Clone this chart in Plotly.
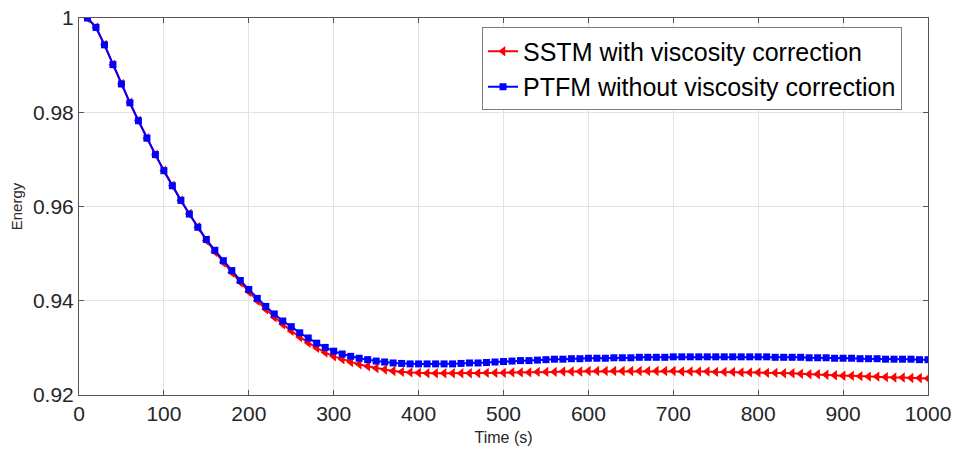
import plotly.graph_objects as go

time_s = [10, 20, 30, 40, 50, 60, 70, 80, 90, 100,
          110, 120, 130, 140, 150, 160, 170, 180, 190, 200,
          210, 220, 230, 240, 250, 260, 270, 280, 290, 300,
          310, 320, 330, 340, 350, 360, 370, 380, 390, 400,
          410, 420, 430, 440, 450, 460, 470, 480, 490, 500,
          510, 520, 530, 540, 550, 560, 570, 580, 590, 600,
          610, 620, 630, 640, 650, 660, 670, 680, 690, 700,
          710, 720, 730, 740, 750, 760, 770, 780, 790, 800,
          810, 820, 830, 840, 850, 860, 870, 880, 890, 900,
          910, 920, 930, 940, 950, 960, 970, 980, 990, 1000]

sstm_energy = [1.0000, 0.9980, 0.9943, 0.9901, 0.9860, 0.9820, 0.9782, 0.9745, 0.9710, 0.9676,
               0.9644, 0.9613, 0.9584, 0.9556, 0.9528, 0.9504, 0.9481, 0.9460, 0.9439, 0.9419,
               0.9400, 0.9382, 0.9365, 0.9350, 0.9336, 0.9323, 0.9311, 0.9300, 0.9290, 0.9282,
               0.9276, 0.9270, 0.9265, 0.9261, 0.9257, 0.9254, 0.9251, 0.9249, 0.9248, 0.9247,
               0.9246, 0.9246, 0.9246, 0.9246, 0.9246, 0.9246, 0.9246, 0.9247, 0.9247, 0.9247,
               0.9248, 0.9248, 0.9248, 0.9249, 0.9249, 0.9249, 0.9250, 0.9250, 0.9250, 0.9251,
               0.9251, 0.9251, 0.9251, 0.9251, 0.9251, 0.9251, 0.9251, 0.9251, 0.9251, 0.9251,
               0.9250, 0.9250, 0.9250, 0.9250, 0.9249, 0.9249, 0.9249, 0.9248, 0.9248, 0.9248,
               0.9247, 0.9247, 0.9246, 0.9246, 0.9245, 0.9244, 0.9244, 0.9243, 0.9242, 0.9241,
               0.9241, 0.9240, 0.9239, 0.9239, 0.9238, 0.9237, 0.9237, 0.9236, 0.9236, 0.9235]

ptfm_energy = [1.0000, 0.9980, 0.9943, 0.9901, 0.9860, 0.9820, 0.9782, 0.9745, 0.9710, 0.9676,
               0.9644, 0.9613, 0.9584, 0.9556, 0.9530, 0.9507, 0.9485, 0.9464, 0.9443, 0.9424,
               0.9405, 0.9388, 0.9372, 0.9357, 0.9345, 0.9332, 0.9321, 0.9310, 0.9301, 0.9293,
               0.9287, 0.9282, 0.9278, 0.9275, 0.9272, 0.9270, 0.9268, 0.9267, 0.9266, 0.9266,
               0.9266, 0.9266, 0.9266, 0.9266, 0.9267, 0.9268, 0.9268, 0.9269, 0.9270, 0.9271,
               0.9272, 0.9273, 0.9273, 0.9274, 0.9275, 0.9276, 0.9276, 0.9277, 0.9277, 0.9278,
               0.9278, 0.9278, 0.9279, 0.9279, 0.9279, 0.9280, 0.9280, 0.9280, 0.9280, 0.9281,
               0.9281, 0.9281, 0.9281, 0.9281, 0.9281, 0.9281, 0.9281, 0.9281, 0.9281, 0.9281,
               0.9281, 0.9280, 0.9280, 0.9280, 0.9280, 0.9279, 0.9279, 0.9279, 0.9278, 0.9278,
               0.9278, 0.9277, 0.9277, 0.9277, 0.9276, 0.9276, 0.9276, 0.9276, 0.9275, 0.9275]

x_ticks = [0, 100, 200, 300, 400, 500, 600, 700, 800, 900, 1000]
y_ticks = [0.92, 0.94, 0.96, 0.98, 1.0]
y_tick_labels = ["0.92", "0.94", "0.96", "0.98", "1"]

FONT = "Liberation Sans, Arial, sans-serif"

fig = go.Figure()
fig.add_trace(go.Scatter(
    x=time_s, y=sstm_energy, mode="lines+markers",
    name="SSTM with viscosity correction",
    line=dict(color="#ff0000", width=2),
    marker=dict(symbol="triangle-left", size=9, color="#ff0000"),
))
fig.add_trace(go.Scatter(
    x=time_s, y=ptfm_energy, mode="lines+markers",
    name="PTFM without viscosity correction",
    line=dict(color="#0000ff", width=2),
    marker=dict(symbol="square", size=7, color="#0000ff"),
))

axis_common = dict(
    showline=True, linecolor="#555555", linewidth=1, mirror="ticks",
    ticks="inside", ticklen=5, tickcolor="#555555",
    showgrid=True, gridcolor="#e3e3e3", gridwidth=1,
    zeroline=False, automargin=False,
    tickfont=dict(family=FONT, size=21, color="#262626"),
)

fig.update_layout(
    width=956, height=452,
    margin=dict(l=79, r=28, t=18, b=57),
    paper_bgcolor="white", plot_bgcolor="white",
    font=dict(family=FONT, color="#262626"),
    xaxis=dict(range=[0, 1000], tickvals=x_ticks,
               title=dict(text="Time (s)", font=dict(family=FONT, size=16, color="#262626"), standoff=7),
               **axis_common),
    yaxis=dict(range=[0.92, 1.0], tickvals=y_ticks, ticktext=y_tick_labels,
               title=dict(text="Energy", font=dict(family=FONT, size=15, color="#262626"), standoff=6),
               **axis_common),
    legend=dict(x=0.4747, y=0.975, xanchor="left", yanchor="top",
                bgcolor="white", bordercolor="#7f7f7f", borderwidth=1,
                font=dict(family=FONT, size=25, color="#000000"),
                tracegroupgap=0, itemwidth=30),
    showlegend=True,
)

fig.write_html("out.html")
